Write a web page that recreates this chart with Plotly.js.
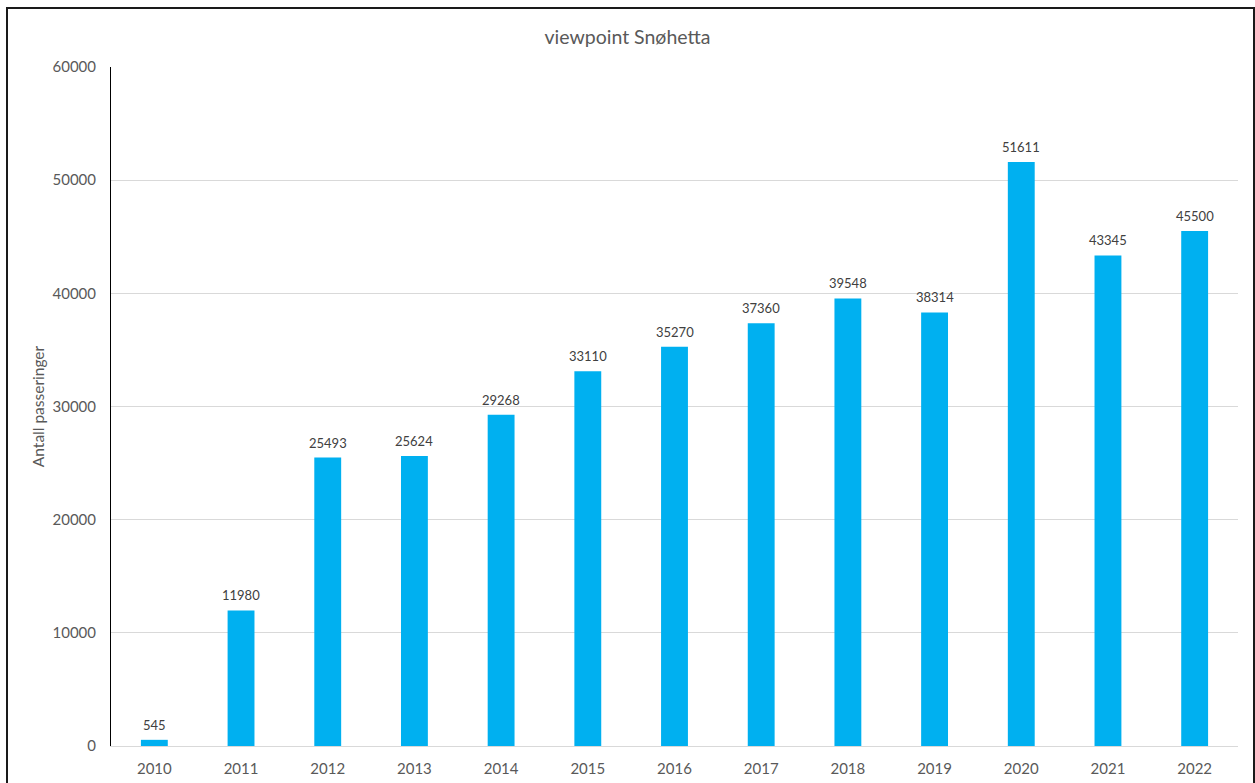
<!DOCTYPE html>
<html>
<head>
<meta charset="utf-8">
<script src="https://cdn.plot.ly/plotly-3.0.1.min.js"></script>
<style>
  html, body { margin: 0; padding: 0; background: #fff; overflow: hidden; }
  #chart { position: absolute; left: 0; top: 0; width: 1255px; height: 783px; }
  #frame { position: absolute; left: 6px; top: 7px; width: 1245px; height: 800px; border: 2px solid #1a1a1a; pointer-events: none; }
</style>
</head>
<body>
<div id="chart"></div>
<div id="frame"></div>
<script>
const years = ['2010','2011','2012','2013','2014','2015','2016','2017','2018','2019','2020','2021','2022'];
const passeringer = [545, 11980, 25493, 25624, 29268, 33110, 35270, 37360, 39548, 38314, 51611, 43345, 45500];
const chartTitle = 'viewpoint Snøhetta';
const yTitle = 'Antall passeringer';

const fontFam = 'Lato, "Open Sans", sans-serif';

// data labels placed at the category index of each bar
const labels = years.map((yr, i) => ({
  x: i, y: passeringer[i], xref: 'x', yref: 'y',
  text: String(passeringer[i]), showarrow: false,
  yanchor: 'bottom', yshift: 5,
  font: { family: fontFam, size: 13, color: '#404040' }
}));

Plotly.newPlot('chart', [{
  type: 'bar',
  x: years,
  y: passeringer,
  marker: { color: '#00B0F0' },
  hoverinfo: 'x+y'
}], {
  width: 1255,
  height: 783,
  margin: { l: 111, r: 17, t: 67, b: 37 },
  paper_bgcolor: '#fff',
  plot_bgcolor: '#fff',
  bargap: 0.69,
  showlegend: false,
  font: { family: fontFam, color: '#595959' },
  annotations: labels,
  title: {
    text: chartTitle,
    font: { family: fontFam, size: 19.5, color: '#595959' },
    x: 0.5, xref: 'container',
    y: 1 - 37/783, yref: 'container', yanchor: 'middle'
  },
  xaxis: {
    type: 'category',
    range: [-0.5, years.length - 0.5],
    autorange: false,
    showgrid: false,
    showline: true,
    linecolor: '#d9d9d9',
    linewidth: 1,
    ticks: '',
    ticklabelstandoff: 9,
    tickfont: { family: fontFam, size: 15, color: '#595959' },
    zeroline: false
  },
  yaxis: {
    range: [0, 60000],
    autorange: false,
    dtick: 10000,
    tick0: 0,
    tickformat: 'd',
    showgrid: true,
    gridcolor: '#d9d9d9',
    gridwidth: 1,
    showline: true,
    linecolor: '#000',
    linewidth: 1,
    zeroline: false,
    ticks: '',
    ticklabelstandoff: 11,
    tickfont: { family: fontFam, size: 15, color: '#595959' },
    title: { text: yTitle, font: { family: fontFam, size: 15.5, color: '#595959' }, standoff: 4 }
  }
}, { displayModeBar: false });
</script>
</body>
</html>
